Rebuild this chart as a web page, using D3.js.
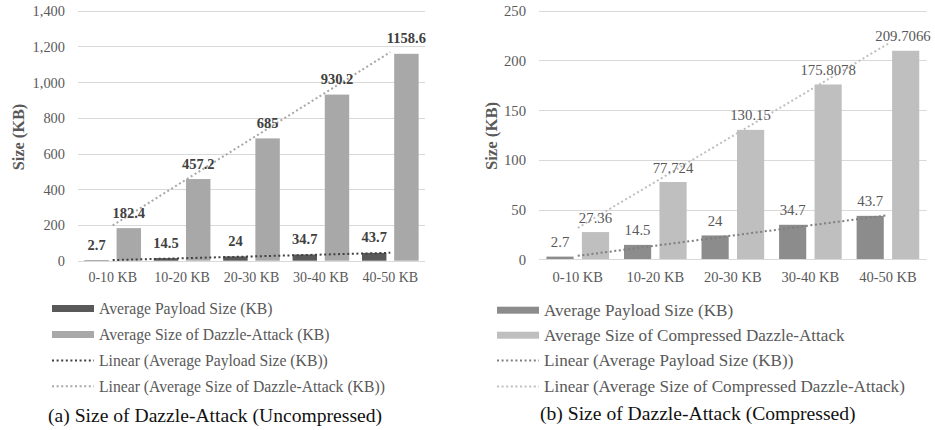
<!DOCTYPE html>
<html>
<head>
<meta charset="utf-8">
<script src="https://cdn.jsdelivr.net/npm/d3@7"></script>
<style>
  html, body { margin: 0; padding: 0; background: #fff; }
  svg { display: block; }
  text { font-family: "Liberation Serif", "Times New Roman", serif; }
</style>
</head>
<body>
<svg id="chart" width="935" height="430"></svg>
<script>
// ---------- data ----------
const categories = ["0-10 KB", "10-20 KB", "20-30 KB", "30-40 KB", "40-50 KB"];
const payloadSize = [2.7, 14.5, 24, 34.7, 43.7];
const dazzleUncompressed = [182.4, 457.2, 685, 930.2, 1158.6];
const dazzleCompressed = [27.36, 77.724, 130.15, 175.8078, 209.7066];
const ticksLeft = [0, 200, 400, 600, 800, 1000, 1200, 1400];
const ticksRight = [0, 50, 100, 150, 200, 250];
const legendLeft = ["Average Payload Size (KB)", "Average Size of Dazzle-Attack (KB)",
  "Linear (Average Payload Size (KB))", "Linear (Average Size of Dazzle-Attack (KB))"];
const legendRight = ["Average Payload Size (KB)", "Average Size of Compressed Dazzle-Attack",
  "Linear (Average Payload Size (KB))", "Linear (Average Size of Compressed Dazzle-Attack)"];
const captionLeft = "(a) Size of Dazzle-Attack (Uncompressed)";
const captionRight = "(b) Size of Dazzle-Attack (Compressed)";
const yTitle = "Size (KB)";

const svg = d3.select("#chart");

function linearFit(vals) {
  const n = vals.length;
  const xs = vals.map((_, i) => i + 1);
  const mx = d3.mean(xs), my = d3.mean(vals);
  const slope = d3.sum(xs, (x, i) => (x - mx) * (vals[i] - my)) / d3.sum(xs, x => (x - mx) * (x - mx));
  const icpt = my - slope * mx;
  return [icpt + slope * 1, icpt + slope * n];
}

function drawPanel(cfg) {
  const g = svg.append("g");
  const x0 = d3.scaleBand().domain(categories).range([cfg.left, cfg.right]).padding(0);
  const x1 = d3.scaleBand().domain(["a", "b"]).range([0, x0.bandwidth()])
    .paddingInner(cfg.pi).paddingOuter(cfg.po);
  const y = d3.scaleLinear().domain([0, cfg.max]).range([cfg.bottom, cfg.top]);

  // gridlines
  g.append("g").selectAll("line").data(cfg.ticks).join("line")
    .attr("x1", cfg.left).attr("x2", cfg.right)
    .attr("y1", d => Math.round(y(d)) + 0.5).attr("y2", d => Math.round(y(d)) + 0.5)
    .attr("stroke", "#d9d9d9").attr("stroke-width", 1);

  // y tick labels via axis
  const ax = g.append("g").attr("transform", `translate(${cfg.tickX},0)`)
    .call(d3.axisLeft(y).tickValues(cfg.ticks).tickSize(0).tickPadding(0)
      .tickFormat(cfg.tickFmt));
  ax.select(".domain").remove();
  ax.selectAll("text").attr("font-family", cfg.font).attr("font-size", cfg.tickSize)
    .attr("fill", "#595959").attr("dy", "0.34em");

  // x labels
  g.append("g").selectAll("text").data(categories).join("text")
    .attr("x", d => x0(d) + x0.bandwidth() / 2).attr("y", cfg.catY)
    .attr("text-anchor", "middle").attr("font-size", cfg.catSize).attr("fill", "#595959")
    .text(d => d);

  // bars
  const series = [
    { key: "a", vals: payloadSize, color: cfg.c1 },
    { key: "b", vals: cfg.vals2, color: cfg.c2 }
  ];
  series.forEach(s => {
    g.append("g").selectAll("rect").data(s.vals).join("rect")
      .attr("x", (d, i) => x0(categories[i]) + x1(s.key))
      .attr("y", d => y(d)).attr("width", x1.bandwidth())
      .attr("height", d => cfg.bottom - y(d)).attr("fill", s.color);
  });

  // axis baseline
  g.append("line").attr("x1", cfg.left).attr("x2", cfg.right)
    .attr("y1", Math.round(cfg.bottom) + 0.5).attr("y2", Math.round(cfg.bottom) + 0.5)
    .attr("stroke", "#d9d9d9");

  // trendlines
  const trends = [
    { vals: payloadSize, color: cfg.t1 },
    { vals: cfg.vals2, color: cfg.t2 }
  ];
  trends.forEach(t => {
    const [a, b] = linearFit(t.vals);
    const xa = x0(categories[0]) + x0.bandwidth() / 2;
    const xb = x0(categories[categories.length - 1]) + x0.bandwidth() / 2;
    g.append("line").attr("x1", xa).attr("y1", y(a)).attr("x2", xb).attr("y2", y(b))
      .attr("stroke", t.color).attr("stroke-width", 2).attr("stroke-dasharray", "2 2.6");
  });

  // data labels
  series.forEach(s => {
    g.append("g").selectAll("text").data(s.vals).join("text")
      .attr("x", (d, i) => Math.min(x0(categories[i]) + x1(s.key) + x1.bandwidth() / 2, cfg.labelMaxX))
      .attr("y", d => y(d) - cfg.labelOff)
      .attr("text-anchor", "middle").attr("font-size", cfg.labelSize)
      .attr("font-weight", cfg.labelWeight).attr("fill", cfg.labelColor)
      .text(d => d);
  });

  // y title
  g.append("text").attr("transform", `translate(${cfg.titleX},${cfg.titleY}) rotate(-90)`)
    .attr("text-anchor", "middle").attr("font-size", cfg.titleSize).attr("font-weight", "bold")
    .attr("fill", "#595959").text(yTitle);

  // legend
  const lg = g.append("g");
  cfg.legend.forEach((txt, i) => {
    const by = cfg.legY[i];
    const cy = by - 5.5;
    if (i < 2) {
      lg.append("rect").attr("x", cfg.swX).attr("y", cy - 3.5).attr("width", 42).attr("height", 7)
        .attr("fill", i === 0 ? cfg.c1 : cfg.c2);
    } else {
      lg.append("line").attr("x1", cfg.swX).attr("x2", cfg.swX + 42).attr("y1", cy).attr("y2", cy)
        .attr("stroke", i === 2 ? cfg.t1 : cfg.t2).attr("stroke-width", 2)
        .attr("stroke-dasharray", "2 2.6");
    }
    lg.append("text").attr("x", cfg.swX + 47).attr("y", by).attr("font-size", cfg.legSize)
      .attr("fill", "#595959").text(txt);
  });

  // caption
  g.append("text").attr("x", cfg.capX).attr("y", cfg.capY).attr("font-size", 19.6)
    .attr("fill", "#111").text(cfg.caption);
}

drawPanel({
  left: 78, right: 425, top: 10.7, bottom: 260.7, max: 1400, ticks: ticksLeft,
  tickX: 65, tickFmt: d3.format(","), tickSize: 14.4, font: "Liberation Serif",
  pi: 0.241, po: 0.198, catY: 282.3, catSize: 14,
  vals2: dazzleUncompressed, c1: "#595959", c2: "#a8a8a8", t1: "#404040", t2: "#a8a8a8",
  labelOff: 10.5, labelSize: 14.5, labelWeight: "bold", labelColor: "#404040", labelMaxX: 935,
  titleX: 24, titleY: 137, titleSize: 16.3,
  legend: legendLeft, legY: [314, 340, 366, 391.7], swX: 52, legSize: 15.7,
  caption: captionLeft, capX: 48, capY: 421.7
});

drawPanel({
  left: 539, right: 926.7, top: 10.7, bottom: 259.3, max: 250, ticks: ticksRight,
  tickX: 526, tickFmt: d3.format("d"), tickSize: 14.7, font: "Liberation Serif",
  pi: 0.234, po: 0.21, catY: 282, catSize: 14.5,
  vals2: dazzleCompressed, c1: "#8c8c8c", c2: "#bfbfbf", t1: "#7f7f7f", t2: "#bfbfbf",
  labelOff: 9.5, labelSize: 14.8, labelWeight: "normal", labelColor: "#595959", labelMaxX: 903,
  titleX: 496.5, titleY: 136, titleSize: 16.7,
  legend: legendRight, legY: [315.7, 340.7, 366, 392], swX: 497, legSize: 17.1,
  caption: captionRight, capX: 540, capY: 420
});
</script>
</body>
</html>
